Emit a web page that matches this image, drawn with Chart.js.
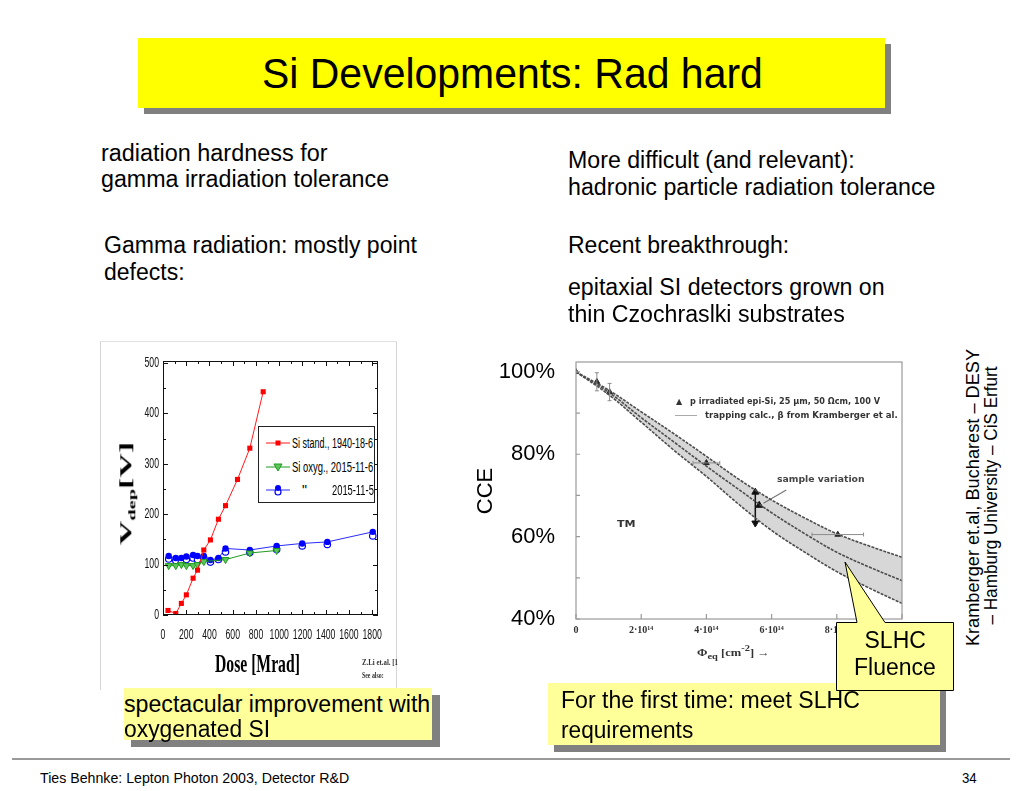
<!DOCTYPE html>
<html>
<head>
<meta charset="utf-8">
<title>Si Developments: Rad hard</title>
<script src="https://cdn.jsdelivr.net/npm/chart.js@4.4.1/dist/chart.umd.min.js"></script>
<style>
  html, body { margin: 0; padding: 0; background: #fff; }
  body { position: relative; width: 1024px; height: 791px; overflow: hidden;
         font-family: "Liberation Sans", Arial, sans-serif; color: #000; }
  .abs { position: absolute; }
  .lbl { position: absolute; white-space: pre; }
  canvas { position: absolute; }
</style>
</head>
<body>

<div class="abs" style="left:144px;top:44px;width:747px;height:70px;background:#808080"></div>
<div class="abs" style="left:138px;top:38px;width:747px;height:70px;background:#ffff00"></div>

<div class="abs" style="left:100px;top:341px;width:297px;height:349px;box-sizing:border-box;border-top:1px solid #e2e2e2;border-left:1px solid #d4d4d4;border-right:1px solid #d4d4d4"></div>
<canvas id="doseChart" width="296" height="349" style="left:100px;top:341px"></canvas>

<svg class="abs" style="left:258px;top:426px" width="117" height="77">
  <rect x="0.5" y="0.5" width="116" height="76" fill="#fff" stroke="#222" stroke-width="1"/>
  <line x1="8" y1="17" x2="32" y2="17" stroke="#ff1a1a" stroke-width="1"/>
  <rect x="17.5" y="14.5" width="5" height="5" fill="#ff0000"/>
  <line x1="8" y1="41" x2="32" y2="41" stroke="#1f9a1f" stroke-width="1"/>
  <polygon points="16,38 24,38 20,45" fill="#5cc65c" stroke="#1f9a1f" stroke-width="1"/>
  <line x1="8" y1="64" x2="32" y2="64" stroke="#2a2aff" stroke-width="1"/>
  <circle cx="20" cy="66" r="3" fill="#fff" stroke="#0000ff" stroke-width="1.2"/>
  <circle cx="20" cy="62" r="3" fill="#0000ff"/>
</svg>

<canvas id="cceChart" width="435" height="335" style="left:480px;top:325px"></canvas>
<div class="abs" style="left:675px;top:415px;width:22px;height:1px;background:#aaa"></div>

<div class="abs" style="left:131px;top:695px;width:309px;height:52px;background:#808080"></div>
<div class="abs" style="left:124px;top:688px;width:308px;height:52px;background:#ffff99"></div>
<div class="abs" style="left:554px;top:690px;width:392px;height:62px;background:#808080"></div>
<div class="abs" style="left:548px;top:683px;width:392px;height:62px;background:#ffff99"></div>

<svg class="abs" style="left:830px;top:555px" width="130" height="140">
  <path d="M6.5,67.5 L27,67.5 L15,7 L55,67.5 L123.5,67.5 L123.5,135.5 L6.5,135.5 Z" fill="#ffff99" stroke="#000" stroke-width="1"/>
</svg>

<div class="abs" style="left:12px;top:758px;width:998px;height:2px;background:#9a9a9a"></div>

<script>
// left figure: depletion voltage vs gamma dose
const doseTickLabels = ['0', '200', '400', '600', '800', '1000', '1200', '1400', '1600', '1800'];
const vdepTickLabels = ['0', '100', '200', '300', '400', '500'];
const seriesNames = ['Si stand., 1940-18-6', 'Si oxyg., 2015-11-6', '2015-11-5'];

const doseStd = [43, 110, 158, 201, 259, 297, 351, 408, 477, 538, 641, 747, 862];
const vdepStd = [9, 3, 23, 40, 73, 89, 129, 149, 190, 217, 269, 331, 443];

const doseOxyA = [49, 110, 158, 201, 259, 297, 351, 538, 747, 978];
const vdepOxyA = [98, 98, 100, 98, 98, 100, 106, 110, 123, 128];

const doseOxyB = [49, 110, 158, 201, 259, 297, 351, 408, 477, 538, 747, 978, 1198, 1414, 1805];
const vdepOxyB = [117, 113, 113, 116, 119, 117, 117, 109, 113, 132, 129, 137, 142, 145, 165];
const vdepOxyBopen = [111, 108, 107, 110, 113, 110, 113, 105, 110, 125, 124, 130, 137, 140, 157];

// right figure: CCE vs fluence (units of 1e14 cm^-2)
const fluenceTickLabels = ['0', '2·10¹⁴', '4·10¹⁴', '6·10¹⁴', '8·10¹⁴', '10¹⁵'];
const cceGridTicks = [40, 50, 60, 70, 80, 90, 100];
const cceTicks = [40, 60, 80, 100];
const fitFluence = [0, 1, 2, 3, 4, 5, 6, 7, 8, 9, 10];
const cceUpper = [100, 95.6, 90.3, 85.0, 79.5, 73.9, 68.9, 64.6, 60.7, 57.7, 55.0];
const cceMid   = [100, 95.1, 88.9, 83.0, 77.1, 71.4, 65.8, 60.8, 56.2, 52.6, 49.3];
const cceLower = [100, 94.5, 87.8, 81.0, 74.6, 67.8, 61.5, 56.3, 51.5, 47.5, 43.8];
const measFluence = [0, 0.64, 1.03, 4.0, 8.03];
const measCce = [100, 97.6, 95.1, 77.9, 60.5];
const measFluenceErr = [0, 0, 0, 0.41, 0.79];
const measCceErr = [0, 2.2, 2.1, 0, 0];
const rangeFluence = [5.5, 5.62, 5.5];
const rangeCce = [70.8, 67.6, 63.3];
const rangeRotation = [0, 0, 180];
const pointerFluence = [6.45, 5.75];
const pointerCce = [71.3, 68.1];

const pairs = (xs, ys) => xs.map((v, i) => ({ x: v, y: ys[i] }));

function label(html, o) {
    const el = document.createElement('div');
    el.className = 'lbl';
    el.innerHTML = html;
    el.style.font = o.font || '23px "Liberation Sans", Arial, sans-serif';
    const lh = o.lh || 28;
    el.style.lineHeight = lh + 'px';
    if (o.color) el.style.color = o.color;
    document.body.appendChild(el);
    const w0 = el.offsetWidth;
    const sx = o.w ? o.w / w0 : 1;
    const sy = o.sy || 1;
    if (o.rot) {
        el.style.left = (o.x - w0 / 2) + 'px';
        el.style.top = (o.cy - lh / 2) + 'px';
        el.style.transformOrigin = '50% 50%';
        el.style.transform = `rotate(-90deg) scale(${sx}, ${sy})`;
    } else {
        const w = w0 * sx;
        let left = o.x;
        if (o.align === 'center') left = o.x - w / 2;
        if (o.align === 'right') left = o.x - w;
        el.style.left = left + 'px';
        el.style.top = (o.cy - lh / 2) + 'px';
        el.style.transformOrigin = '0 50%';
        el.style.transform = `scale(${sx}, ${sy})`;
    }
    return el;
}

const doseFrame = {
    id: 'doseFrame',
    afterDraw(chart) {
        const { ctx, chartArea: a, scales: { x, y } } = chart;
        ctx.save();
        ctx.strokeStyle = '#111';
        ctx.lineWidth = 1;
        ctx.strokeRect(a.left + 0.5, a.top + 0.5, a.width - 1, a.height - 1);
        ctx.beginPath();
        for (let v = 0; v <= x.max; v += 100) {
            const px = Math.round(x.getPixelForValue(v)) + 0.5, len = v % 200 ? 3 : 5;
            ctx.moveTo(px, a.bottom); ctx.lineTo(px, a.bottom - len);
            ctx.moveTo(px, a.top); ctx.lineTo(px, a.top + len);
        }
        for (let v = 0; v <= y.max; v += 50) {
            const py = Math.round(y.getPixelForValue(v)) + 0.5, len = v % 100 ? 3 : 5;
            ctx.moveTo(a.left, py); ctx.lineTo(a.left + len, py);
            ctx.moveTo(a.right, py); ctx.lineTo(a.right - len, py);
        }
        ctx.stroke();

        ctx.fillStyle = '#111';
        ctx.font = '14px "Liberation Sans", Arial, sans-serif';
        ctx.textBaseline = 'middle';
        const cond = (txt, px, py, align) => {
            ctx.save();
            ctx.translate(px, py);
            ctx.scale(0.62, 1);
            ctx.textAlign = align;
            ctx.fillText(txt, 0, 0);
            ctx.restore();
        };
        doseTickLabels.forEach(t => cond(t, x.getPixelForValue(+t), a.bottom + 20, 'center'));
        vdepTickLabels.forEach(t => cond(t, a.left - 4, y.getPixelForValue(+t), 'right'));
        ctx.restore();
    }
};

const cceDecor = {
    id: 'cceDecor',
    afterDatasetsDraw(chart) {
        const { ctx, scales: { x, y } } = chart;
        ctx.save();
        ctx.strokeStyle = '#8c8c8c';
        ctx.lineWidth = 1;
        ctx.beginPath();
        measFluence.forEach((f, i) => {
            const px = x.getPixelForValue(f), py = y.getPixelForValue(measCce[i]);
            if (measCceErr[i]) {
                const t = y.getPixelForValue(measCce[i] + measCceErr[i]);
                const b = y.getPixelForValue(measCce[i] - measCceErr[i]);
                ctx.moveTo(px, t); ctx.lineTo(px, b);
                ctx.moveTo(px - 2, t); ctx.lineTo(px + 2, t);
                ctx.moveTo(px - 2, b); ctx.lineTo(px + 2, b);
            }
            if (measFluenceErr[i]) {
                const l = x.getPixelForValue(f - measFluenceErr[i]);
                const r = x.getPixelForValue(f + measFluenceErr[i]);
                ctx.moveTo(l, py); ctx.lineTo(r, py);
                ctx.moveTo(l, py - 2); ctx.lineTo(l, py + 2);
                ctx.moveTo(r, py - 2); ctx.lineTo(r, py + 2);
            }
        });
        ctx.stroke();
        ctx.restore();
    },
    afterDraw(chart) {
        const { ctx, chartArea: a, scales: { x, y } } = chart;
        ctx.save();
        ctx.strokeStyle = '#9a9a9a';
        ctx.lineWidth = 1.2;
        ctx.strokeRect(a.left, a.top, a.width, a.height);
        ctx.beginPath();
        cceGridTicks.forEach(v => {
            const py = y.getPixelForValue(v);
            ctx.moveTo(a.left, py); ctx.lineTo(a.left + 4, py);
        });
        for (let v = 0; v <= 10; v += 2) {
            const px = x.getPixelForValue(v);
            ctx.moveTo(px, a.bottom); ctx.lineTo(px, a.bottom - 5);
        }
        ctx.stroke();
        ctx.restore();
    }
};

const fitLine = {
    borderColor: '#4d4d4d', borderWidth: 1.6, borderDash: [3, 1.2],
    pointRadius: 0, tension: 0.35, fill: false
};

new Chart(document.getElementById('doseChart'), {
    type: 'line',
    data: {
        datasets: [
            { label: seriesNames[0], data: pairs(doseStd, vdepStd), borderColor: '#ff1a1a', backgroundColor: '#ff0000',
              borderWidth: 1, pointStyle: 'rect', pointRadius: 3.6, pointBorderWidth: 0 },
            { label: seriesNames[1], data: pairs(doseOxyA, vdepOxyA), borderColor: '#1f9a1f', backgroundColor: '#5cc65c',
              borderWidth: 1, pointStyle: 'triangle', pointRotation: 180, pointRadius: 4, pointBorderWidth: 1 },
            { label: seriesNames[2], data: pairs(doseOxyB, vdepOxyB), borderColor: '#2a2aff', backgroundColor: '#0000ff',
              borderWidth: 1, pointStyle: 'circle', pointRadius: 3.2, pointBorderWidth: 0 },
            { label: seriesNames[2], data: pairs(doseOxyB, vdepOxyBopen), showLine: false, borderColor: '#0000ff',
              backgroundColor: '#ffffff', pointStyle: 'circle', pointRadius: 3.2, pointBorderWidth: 1.2 }
        ]
    },
    options: {
        responsive: false,
        animation: false,
        layout: { padding: { left: 0, right: 18, top: 20, bottom: 0 } },
        plugins: { legend: { display: false }, tooltip: { enabled: false } },
        scales: {
            x: { type: 'linear', min: 0, max: 1850, grid: { display: false, drawTicks: false },
                 border: { display: false }, ticks: { display: false }, afterFit: s => { s.height = 75; } },
            y: { type: 'linear', min: 0, max: 504, grid: { display: false, drawTicks: false },
                 border: { display: false }, ticks: { display: false }, afterFit: s => { s.width = 63; } }
        }
    },
    plugins: [doseFrame]
});

new Chart(document.getElementById('cceChart'), {
    type: 'line',
    data: {
        datasets: [
            Object.assign({}, fitLine, { data: pairs(fitFluence, cceUpper), fill: '+2', backgroundColor: '#d7d7d7' }),
            Object.assign({}, fitLine, { data: pairs(fitFluence, cceMid) }),
            Object.assign({}, fitLine, { data: pairs(fitFluence, cceLower) }),
            { data: pairs(measFluence, measCce), showLine: false, pointStyle: 'triangle', pointRadius: 3.3,
              backgroundColor: '#222', borderColor: '#222' },
            { data: pairs([rangeFluence[0], rangeFluence[2]], [rangeCce[0], rangeCce[2]]), borderColor: '#111',
              borderWidth: 1.5, pointRadius: 0 },
            { data: pairs(rangeFluence, rangeCce), showLine: false, pointStyle: 'triangle', pointRotation: rangeRotation,
              pointRadius: 4, backgroundColor: '#111', borderColor: '#111' },
            { data: pairs(pointerFluence, pointerCce), borderColor: '#777', borderWidth: 1.2, pointRadius: 0 }
        ]
    },
    options: {
        responsive: false,
        animation: false,
        layout: { padding: { left: 0, right: 12, top: 37, bottom: 0 } },
        plugins: { legend: { display: false }, tooltip: { enabled: false }, filler: { drawTime: 'beforeDatasetsDraw' } },
        scales: {
            x: { type: 'linear', min: 0, max: 10, grid: { display: false, drawTicks: false }, border: { display: false },
                 ticks: { stepSize: 2, autoSkip: false, maxRotation: 0, padding: 5, color: '#333',
                          font: { family: 'Liberation Serif', size: 10, weight: 'bold' },
                          callback: (v, i) => fluenceTickLabels[i] ?? '' },
                 afterFit: s => { s.height = 41; } },
            y: { type: 'linear', min: 40, max: 102.4, grid: { display: false, drawTicks: false }, border: { display: false },
                 afterBuildTicks: s => { s.ticks = cceGridTicks.map(v => ({ value: v })); },
                 ticks: { autoSkip: false, padding: 21, color: '#000',
                          font: { family: 'Liberation Sans', size: 22 },
                          callback: v => cceTicks.includes(v) ? v + '%' : '' },
                 afterFit: s => { s.width = 96; } }
        }
    },
    plugins: [cceDecor]
});

// slide text
label('Si Developments: Rad hard', { x: 512.5, cy: 73, w: 501, align: 'center', font: '43px "Liberation Sans", Arial, sans-serif', lh: 50 });

label('radiation hardness for', { x: 101, cy: 153, w: 226 });
label('gamma irradiation tolerance', { x: 101, cy: 179, w: 288 });
label('Gamma radiation: mostly point', { x: 104, cy: 245, w: 313 });
label('defects:', { x: 104, cy: 272, w: 81 });
label('More difficult (and relevant):', { x: 568, cy: 160, w: 287 });
label('hadronic particle radiation tolerance', { x: 568, cy: 187, w: 367 });
label('Recent breakthrough:', { x: 568, cy: 245 });
label('epitaxial SI detectors grown on', { x: 568, cy: 287, w: 317 });
label('thin Czochraslki substrates', { x: 568, cy: 314, w: 277 });

label('spectacular improvement with', { x: 124, cy: 704, w: 306 });
label('oxygenated SI', { x: 124, cy: 729, w: 146 });
label('For the first time: meet SLHC', { x: 561, cy: 700, w: 299 });
label('requirements', { x: 561, cy: 730, w: 132 });
label('SLHC', { x: 895, cy: 640, align: 'center' });
label('Fluence', { x: 895, cy: 667, align: 'center' });

label('Kramberger et.al, Bucharest – DESY', { x: 973, cy: 497, w: 297, rot: true, font: '18px "Liberation Sans", Arial, sans-serif', lh: 21 });
label('– Hamburg University – CiS Erfurt', { x: 991, cy: 495, w: 258, rot: true, font: '18px "Liberation Sans", Arial, sans-serif', lh: 21 });

label('Ties Behnke: Lepton Photon 2003, Detector R&amp;D', { x: 40, cy: 778, w: 309, font: '15px "Liberation Sans", Arial, sans-serif', lh: 18 });
label('34', { x: 962, cy: 778, w: 15, font: '15px "Liberation Sans", Arial, sans-serif', lh: 18 });

// left figure texts
const serifB = px => `bold ${px}px "Liberation Serif", "Times New Roman", serif`;
label('V<sub style="font-size:60%">dep</sub>[V]', { x: 128, cy: 488, w: 103, sy: 0.55, rot: true, font: serifB(30), lh: 34 });
label('Dose [Mrad]', { x: 257.5, cy: 664, w: 85, align: 'center', font: serifB(26), lh: 30 });
label('Z.Li et.al. [1', { x: 362, cy: 663, w: 36, font: serifB(8), lh: 10, color: '#333' });
label('See also:', { x: 362, cy: 676, w: 22, font: serifB(8), lh: 10, color: '#333' });

const legFont = '14px "Liberation Sans", Arial, sans-serif';
label(seriesNames[0], { x: 292, cy: 443, w: 81, font: legFont, lh: 16 });
label(seriesNames[1], { x: 292, cy: 467, w: 81, font: legFont, lh: 16 });
label('"', { x: 302, cy: 490, font: legFont, lh: 16 });
label(seriesNames[2], { x: 332, cy: 490, w: 42, font: legFont, lh: 16 });

// right figure texts
const tiny = 'bold 8px "DejaVu Sans", sans-serif';
label('CCE', { x: 485, cy: 491, rot: true, font: '22px "Liberation Sans", Arial, sans-serif', lh: 26 });
label('▲', { x: 676, cy: 402, font: tiny, lh: 10, color: '#333' });
label('p irradiated epi-Si, 25 µm, 50 Ωcm, 100 V', { x: 690, cy: 402, w: 190, font: tiny, lh: 10, color: '#333' });
label('trapping calc., β from Kramberger et al.', { x: 705, cy: 416, w: 193, font: tiny, lh: 10, color: '#333' });
label('sample variation', { x: 777, cy: 480, w: 88, font: tiny, lh: 10, color: '#444' });
label('TM', { x: 617, cy: 525, w: 18, font: tiny, lh: 10, color: '#333' });
label('Φ<sub>eq</sub> [cm<sup>-2</sup>] →', { x: 697, cy: 648, w: 73, font: serifB(11), lh: 14, color: '#333' });
</script>
</body>
</html>
